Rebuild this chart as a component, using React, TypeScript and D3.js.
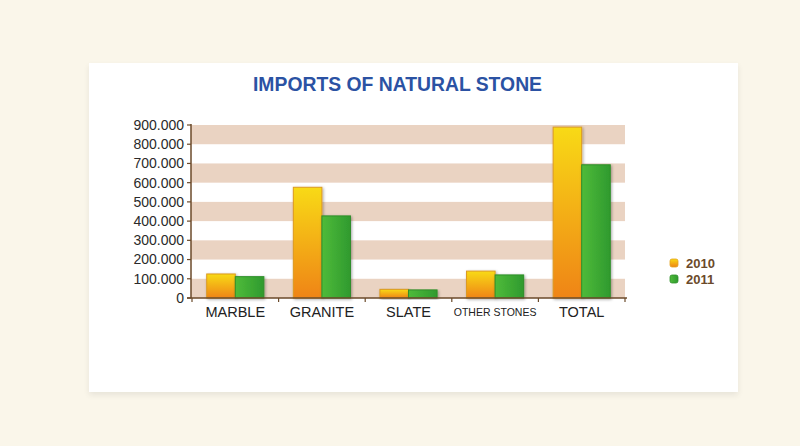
import React from "react";
import * as d3 from "d3";

const categories = ["MARBLE", "GRANITE", "SLATE", "OTHER STONES", "TOTAL"];
const series = ["2010", "2011"];
const values2010 = [125000, 576000, 45000, 140000, 889000];
const values2011 = [111000, 427000, 42000, 120000, 693000];
const yTicks = [0, 100000, 200000, 300000, 400000, 500000, 600000, 700000, 800000, 900000];

const W = 800;
const H = 446;
const left = 191;
const right = 625;
const top = 125;
const bottom = 298;

export default function App() {
  const x = d3.scaleBand<string>().domain(categories).range([192, 625]).paddingInner(0).paddingOuter(0);
  const y = d3.scaleLinear().domain([0, 900000]).range([bottom, top]);
  const groupW = x.bandwidth() * 0.66;
  const x1 = d3.scaleBand<string>().domain(series).range([0, groupW]);
  const fmt = (v: number) => (v === 0 ? "0" : d3.format(",")(v).replace(/,/g, "."));
  const data = [values2010, values2011];
  const bands = d3.range(0, 9).filter((i) => i % 2 === 0);

  return (
    <svg width={W} height={H} style={{ position: "absolute", left: 0, top: 0, display: "block" }}>
      <defs>
        <linearGradient id="g2010" x1="0" y1="0" x2="0" y2="1">
          <stop offset="0" stopColor="#f8da12" />
          <stop offset="1" stopColor="#ef8414" />
        </linearGradient>
        <linearGradient id="g2011" x1="0" y1="0" x2="1" y2="0">
          <stop offset="0" stopColor="#4fbb3a" />
          <stop offset="1" stopColor="#2f9a2e" />
        </linearGradient>
        <filter id="shadow" x="-20%" y="-20%" width="140%" height="140%">
          <feGaussianBlur in="SourceAlpha" stdDeviation="1.5" />
          <feOffset dx="1" dy="1" result="b" />
          <feComponentTransfer><feFuncA type="linear" slope="0.35" /></feComponentTransfer>
          <feMerge><feMergeNode /><feMergeNode in="SourceGraphic" /></feMerge>
        </filter>
        <filter id="panelShadow" x="-5%" y="-5%" width="110%" height="110%">
          <feGaussianBlur in="SourceAlpha" stdDeviation="3" />
          <feOffset dx="0" dy="3" />
          <feComponentTransfer><feFuncA type="linear" slope="0.08" /></feComponentTransfer>
          <feMerge><feMergeNode /><feMergeNode in="SourceGraphic" /></feMerge>
        </filter>
      </defs>
      <rect x={0} y={0} width={W} height={H} fill="#faf6ea" />
      <rect x={89} y={63} width={649} height={329} fill="#ffffff" filter="url(#panelShadow)" />
      <text x={253} y={91} textLength={289} lengthAdjust="spacingAndGlyphs" fontFamily="Liberation Sans, Arial, sans-serif" fontWeight="bold" fontSize={20} fill="#2b52a3">
        IMPORTS OF NATURAL STONE
      </text>
      {bands.map((i) => (
        <rect key={i} x={left} y={y(yTicks[i + 1])} width={right - left} height={y(yTicks[i]) - y(yTicks[i + 1])} fill="#ead3c2" />
      ))}
      {categories.map((c, ci) => (
        <g key={c} transform={`translate(${(x(c) as number) + (x.bandwidth() - groupW) / 2},0)`}>
          {series.map((s, si) => {
            const v = data[si][ci];
            return (
              <rect
                key={s}
                x={x1(s)}
                y={y(v)}
                width={x1.bandwidth()}
                height={y(0) - y(v)}
                fill={si === 0 ? "url(#g2010)" : "url(#g2011)"}
                stroke={si === 0 ? "#dc9a22" : "#2f8f2a"}
                strokeWidth={1}
                filter="url(#shadow)"
              />
            );
          })}
        </g>
      ))}
      <line x1={left} x2={left} y1={top - 1} y2={bottom} stroke="#6b4a2a" strokeWidth={1.5} />
      <line x1={left - 4} x2={right + 2} y1={bottom} y2={bottom} stroke="#6b4a2a" strokeWidth={1.5} />
      {yTicks.map((t) => (
        <g key={t}>
          <line x1={left - 4} x2={left} y1={y(t)} y2={y(t)} stroke="#6b4a2a" strokeWidth={1.2} />
          <text x={184} y={y(t)} dy="0.35em" textAnchor="end" fontFamily="Liberation Sans, Arial, sans-serif" fontSize={14} fill="#2a2a2a">
            {fmt(t)}
          </text>
        </g>
      ))}
      {[...categories.map((c) => x(c) as number), 625].map((px, i) => (
        <line key={i} x1={px} x2={px} y1={bottom} y2={bottom + 4} stroke="#6b4a2a" strokeWidth={1.2} />
      ))}
      {categories.map((c) => (
        <text
          key={c}
          x={(x(c) as number) + x.bandwidth() / 2}
          y={312}
          dy="0.35em"
          textAnchor="middle"
          fontFamily="Liberation Sans, Arial, sans-serif"
          fontSize={c === "OTHER STONES" ? 10.5 : 14.5}
          fill="#222"
        >
          {c}
        </text>
      ))}
      {series.map((s, si) => (
        <g key={s} transform={`translate(670,${263 + si * 16})`}>
          <rect x={0} y={-4} width={8} height={8} rx={2} fill={si === 0 ? "url(#g2010)" : "url(#g2011)"} stroke={si === 0 ? "#e3a21c" : "#2f8f2a"} strokeWidth={0.8} />
          <text x={16} y={0} dy="0.36em" fontFamily="Liberation Sans, Arial, sans-serif" fontWeight="bold" fontSize={13} fill="#6b4a2a">
            {s}
          </text>
        </g>
      ))}
    </svg>
  );
}
